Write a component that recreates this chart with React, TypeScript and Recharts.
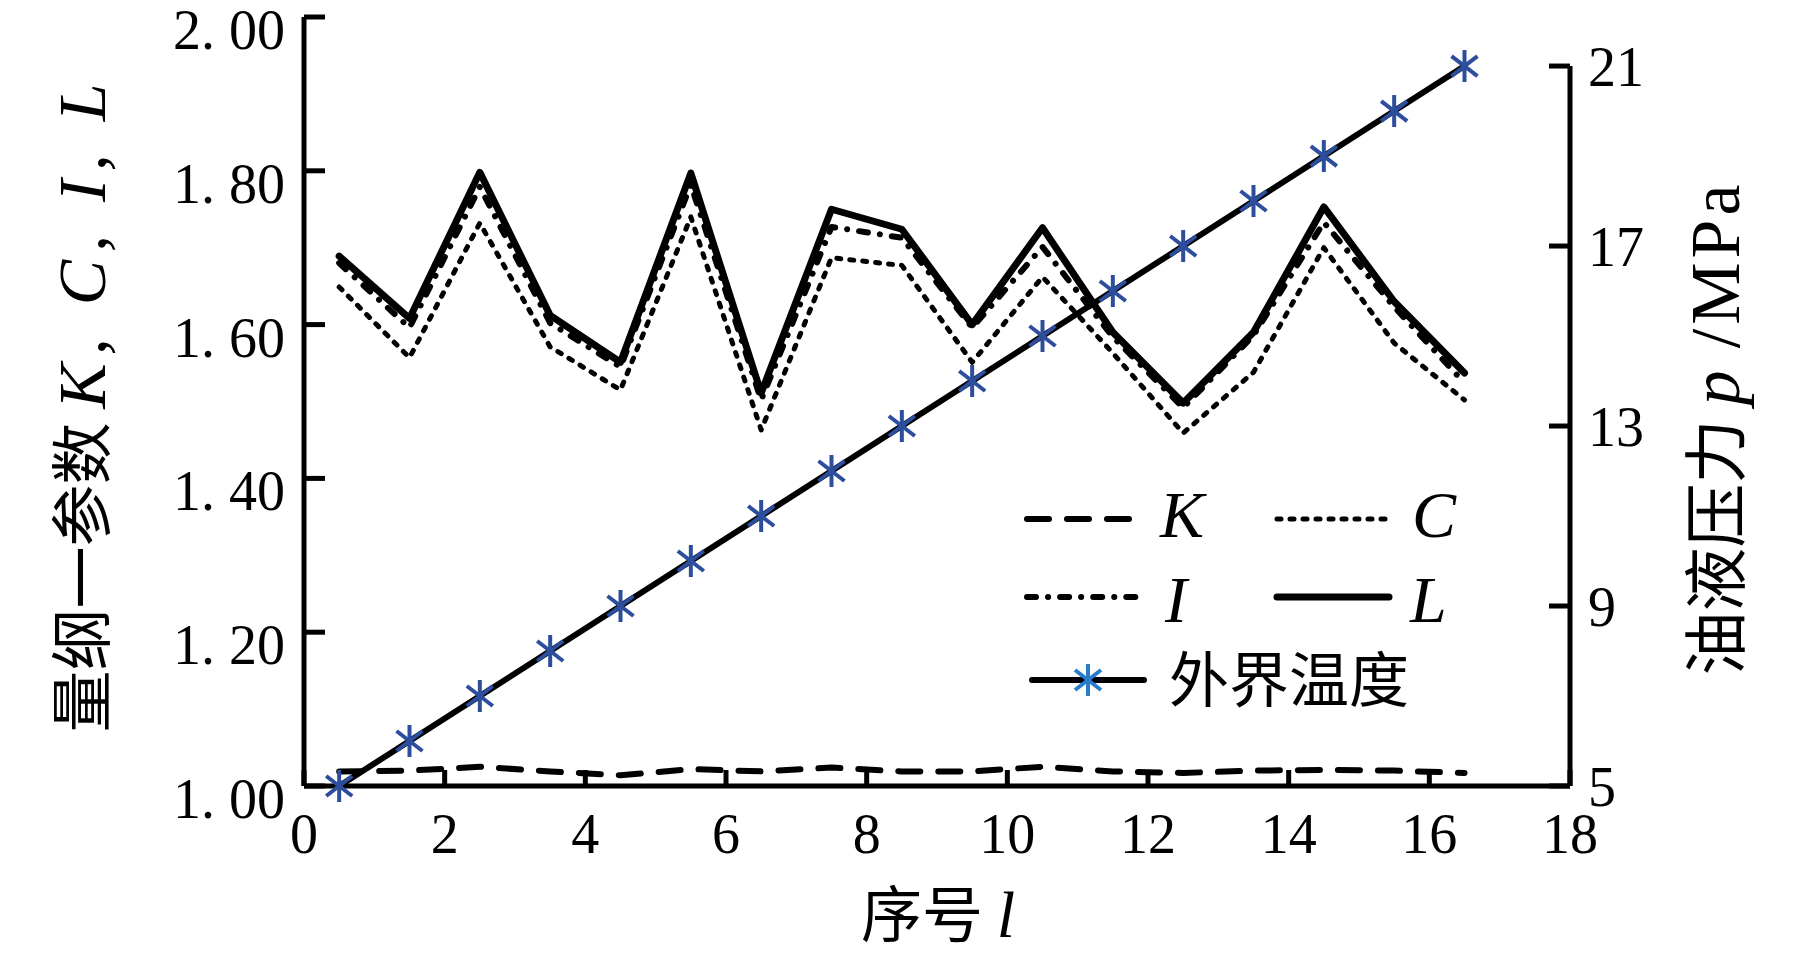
import { LineChart, Line, XAxis, YAxis, ReferenceLine, Legend } from 'recharts';

// 序号 l
const positions = [0.5, 1.5, 2.5, 3.5, 4.5, 5.5, 6.5, 7.5, 8.5, 9.5, 10.5, 11.5, 12.5, 13.5, 14.5, 15.5, 16.5];
// 量纲一参数
const kValues = [1.019, 1.02, 1.025, 1.019, 1.014, 1.022, 1.019, 1.024, 1.019, 1.019, 1.025, 1.019, 1.017, 1.02, 1.021, 1.02, 1.017];
const cValues = [1.649, 1.557, 1.732, 1.571, 1.515, 1.74, 1.463, 1.687, 1.677, 1.551, 1.662, 1.563, 1.459, 1.538, 1.7, 1.576, 1.502];
const iValues = [1.68, 1.596, 1.779, 1.602, 1.545, 1.782, 1.502, 1.727, 1.713, 1.596, 1.701, 1.584, 1.492, 1.586, 1.733, 1.623, 1.524];
const lValues = [1.689, 1.608, 1.798, 1.612, 1.551, 1.797, 1.511, 1.75, 1.724, 1.6, 1.726, 1.59, 1.498, 1.59, 1.753, 1.63, 1.537];
// 油液压力 p/MPa
const pressureValues = [5, 6, 7, 8, 9, 10, 11, 12, 13, 14, 15, 16, 17, 18, 19, 20, 21];

const xTicks = [0, 2, 4, 6, 8, 10, 12, 14, 16, 18];
const leftTicks = [1.0, 1.2, 1.4, 1.6, 1.8, 2.0];
const leftTickLabels = ['1. 00', '1. 20', '1. 40', '1. 60', '1. 80', '2. 00'];
const rightTicks = [5, 9, 13, 17, 21];

const seriesNames: Record<string, string> = { K: 'K', C: 'C', I: 'I', L: 'L', p: '外界温度' };

const data = positions.map((x, i) => ({
  x,
  K: kValues[i],
  C: cValues[i],
  I: iValues[i],
  L: lValues[i],
  p: pressureValues[i],
}));

const SERIF = '"Liberation Serif", "Times New Roman", serif';
const CJK = '"Noto Sans CJK SC", sans-serif';
const STAR_BLUE = '#2d4e9c';

const lineStyles: Record<string, { strokeWidth: number; strokeDasharray?: string }> = {
  K: { strokeWidth: 6, strokeDasharray: '22 18' },
  C: { strokeWidth: 5, strokeDasharray: '4 9' },
  I: { strokeWidth: 6, strokeDasharray: '9 12 0.1 12' },
  L: { strokeWidth: 7 },
  p: { strokeWidth: 6 },
};

const LeftTick = ({ x, y, payload }: any) => {
  const idx = leftTicks.findIndex((t) => Math.abs(t - payload.value) < 1e-6);
  return (
    <g>
      <line x1={x} y1={y} x2={x + 21} y2={y} stroke="#000" strokeWidth={5} />
      <text x={x - 19} y={y + 32} textAnchor="end" fontFamily={SERIF} fontSize={56} fill="#000">
        {leftTickLabels[idx]}
      </text>
    </g>
  );
};

const RightTick = ({ x, y, payload }: any) => (
  <g>
    <line x1={x} y1={y} x2={x - 21} y2={y} stroke="#000" strokeWidth={5} />
    <text x={x + 18} y={y + 20} textAnchor="start" fontFamily={SERIF} fontSize={56} fill="#000">
      {payload.value}
    </text>
  </g>
);

const BottomTick = ({ x, y, payload }: any) => (
  <g>
    <line x1={x} y1={y} x2={x} y2={y - 16} stroke="#000" strokeWidth={5} />
    <text x={x} y={y + 67} textAnchor="middle" fontFamily={SERIF} fontSize={56} fill="#000">
      {payload.value}
    </text>
  </g>
);

const Star = ({ cx, cy, color = STAR_BLUE }: any) => (
  <g stroke={color} strokeWidth={4} strokeLinecap="butt">
    <line x1={cx} y1={cy - 16} x2={cx} y2={cy + 16} />
    <line x1={cx - 13} y1={cy - 10} x2={cx + 13} y2={cy + 10} />
    <line x1={cx - 13} y1={cy + 10} x2={cx + 13} y2={cy - 10} />
  </g>
);

const LeftTitle = () => (
  <text transform="translate(105, 404) rotate(-90)" textAnchor="middle" fill="#000">
    <tspan fontFamily={CJK} fontSize={62}>量纲一参数 </tspan>
    <tspan fontFamily={SERIF} fontStyle="italic" fontSize={68} letterSpacing={8}>K, C, I, L</tspan>
  </text>
);

const RightTitle = () => (
  <text transform="translate(1739, 428) rotate(-90)" textAnchor="middle" fill="#000">
    <tspan fontFamily={CJK} fontSize={64}>油液压力 </tspan>
    <tspan fontFamily={SERIF} fontStyle="italic" fontSize={70} letterSpacing={22}>p</tspan>
    <tspan fontFamily={SERIF} fontSize={70} letterSpacing={4}>/MPa</tspan>
  </text>
);

const BottomTitle = () => (
  <text x={938} y={937} textAnchor="middle" fill="#000">
    <tspan fontFamily={CJK} fontSize={61}>序号 </tspan>
    <tspan fontFamily={SERIF} fontStyle="italic" fontSize={66}>l</tspan>
  </text>
);

// legend slots, relative to the legend box
const legendSlots: Record<string, { lx: number; ly: number; tx: number; ty: number }> = {
  K: { lx: 27, ly: 49, tx: 160, ty: 67 },
  C: { lx: 277, ly: 49, tx: 412, ty: 67 },
  I: { lx: 27, ly: 127, tx: 165, ty: 152 },
  L: { lx: 277, ly: 127, tx: 410, ty: 152 },
  p: { lx: 32, ly: 210, tx: 169, ty: 232 },
};

const LegendBox = ({ payload }: any) => (
  <svg width={460} height={260} style={{ overflow: 'visible', display: 'block' }}>
    {(payload || []).map((entry: any) => {
      const key = entry.dataKey as string;
      const slot = legendSlots[key];
      const st = lineStyles[key];
      if (!slot) return null;
      return (
        <g key={key}>
          <line
            x1={slot.lx}
            y1={slot.ly}
            x2={slot.lx + 112}
            y2={slot.ly}
            stroke="#000"
            strokeWidth={st.strokeWidth}
            strokeDasharray={st.strokeDasharray}
            strokeLinecap="round"
          />
          {key === 'p' && <Star cx={slot.lx + 56} cy={slot.ly} color="#2a7cc8" />}
          <text
            x={slot.tx}
            y={slot.ty}
            fontFamily={key === 'p' ? CJK : SERIF}
            fontStyle={key === 'p' ? 'normal' : 'italic'}
            fontSize={key === 'p' ? 60 : 66}
            fill="#000"
          >
            {entry.value}
          </text>
        </g>
      );
    })}
  </svg>
);

const App = () => {
  return (
    <div style={{ position: 'absolute', left: 0, top: 0, background: '#fff' }}>
      <LineChart width={1819} height={954} data={data} margin={{ top: 17, right: 0, bottom: 0, left: 0 }}>
        <XAxis
          dataKey="x"
          type="number"
          domain={[0, 18]}
          ticks={xTicks}
          height={168}
          tickSize={0}
          tickMargin={0}
          tickLine={false}
          axisLine={{ stroke: '#000', strokeWidth: 5 }}
          tick={(props: any) => <BottomTick {...props} />}
          label={<BottomTitle />}
        />
        <YAxis
          yAxisId="left"
          orientation="left"
          type="number"
          domain={[1, 2]}
          ticks={leftTicks}
          width={304}
          tickSize={0}
          tickMargin={0}
          tickLine={false}
          axisLine={{ stroke: '#000', strokeWidth: 5 }}
          tick={(props: any) => <LeftTick {...props} />}
          label={<LeftTitle />}
        />
        <YAxis
          yAxisId="right"
          orientation="right"
          type="number"
          domain={[5, 22.09]}
          ticks={rightTicks}
          width={249}
          tickSize={0}
          tickMargin={0}
          tickLine={false}
          axisLine={false}
          tick={(props: any) => <RightTick {...props} />}
          label={<RightTitle />}
        />
        <ReferenceLine
          yAxisId="right"
          segment={[
            { x: 18, y: 5 },
            { x: 18, y: 21 },
          ]}
          stroke="#000"
          strokeWidth={5}
        />
        {['K', 'C', 'I', 'L'].map((k) => (
          <Line
            key={k}
            yAxisId="left"
            dataKey={k}
            name={seriesNames[k]}
            type="linear"
            stroke="#000"
            strokeWidth={lineStyles[k].strokeWidth}
            strokeDasharray={lineStyles[k].strokeDasharray}
            strokeLinecap="round"
            strokeLinejoin="round"
            dot={false}
            activeDot={false}
            isAnimationActive={false}
          />
        ))}
        <Line
          yAxisId="right"
          dataKey="p"
          name={seriesNames.p}
          type="linear"
          stroke="#000"
          strokeWidth={lineStyles.p.strokeWidth}
          dot={(props: any) => <Star key={`star-${props.index}`} cx={props.cx} cy={props.cy} />}
          activeDot={false}
          isAnimationActive={false}
        />
        <Legend
          layout="horizontal"
          verticalAlign="middle"
          align="center"
          wrapperStyle={{ left: 1000, top: 470, width: 460, height: 260 }}
          content={(props: any) => <LegendBox {...props} />}
        />
      </LineChart>
    </div>
  );
};

export default App;
